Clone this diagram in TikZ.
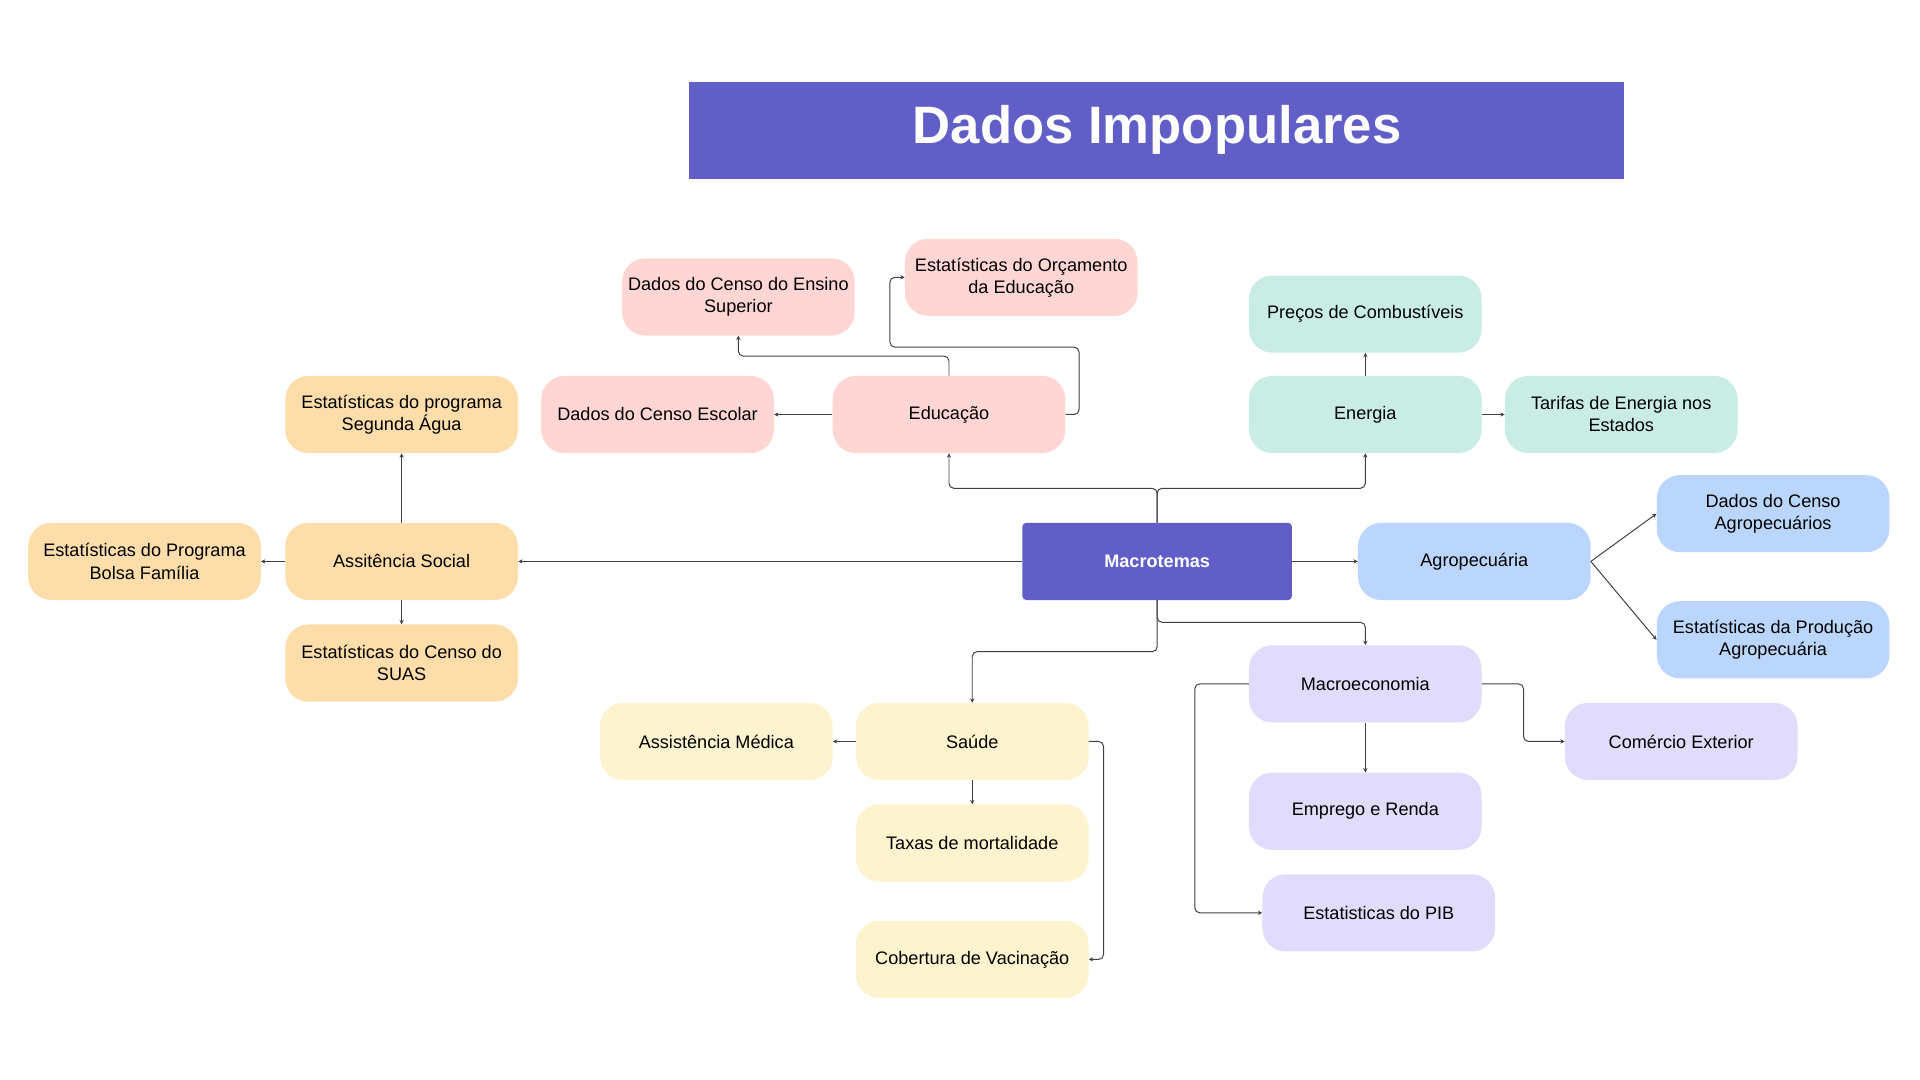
\documentclass[tikz,border=0pt]{standalone}
\usepackage{fontspec}
\setmainfont{Liberation Sans}
\usepackage{xcolor}
\usetikzlibrary{arrows.meta, positioning}
\definecolor{roxo}{HTML}{615EC8}
\definecolor{rosa}{HTML}{FFD6D3}
\definecolor{verde}{HTML}{C9EDE4}
\definecolor{laranja}{HTML}{FDDDA9}
\definecolor{azul}{HTML}{BBD6FC}
\definecolor{lilas}{HTML}{E1DBFC}
\definecolor{amarelo}{HTML}{FEF3CF}
\definecolor{linha}{HTML}{404040}
\tikzset{tema/.style={rounded corners=19pt,minimum width=190pt,minimum height=63pt,
    align=center,inner sep=2pt,font=\fontsize{14.8}{18}\selectfont,text=black}}
\tikzset{link/.style={draw=linha,line width=0.8pt,rounded corners=4pt,-{Stealth[length=3.5pt,width=3.5pt]}}}

\begin{document}
\begin{tikzpicture}[x=1pt,y=-1pt]
      \useasboundingbox[fill=white] (0,0) rectangle (1568,882);
      % titulo
      \node[fill=roxo,minimum width=763pt,minimum height=79pt,inner sep=0pt] (titulo) at (944.5,106.5) {};
      \node[text=white,font=\fontsize{43}{50}\selectfont\bfseries] at (945,106) {Dados Impopulares};

      % centro
      \node[fill=roxo,rounded corners=3pt,minimum width=220pt,minimum height=63pt,
            text=white,font=\fontsize{14.8}{18}\selectfont\bfseries] (macro) at (945,458.5) {Macrotemas};

      % educacao
      \node[tema,fill=rosa] (edu) at (775,338.5) {Educação};
      \node[tema,fill=rosa] (esc) at (537,338.5) {Dados do Censo Escolar};
      \node[tema,fill=rosa] (ens) at (603,242.5) {Dados do Censo do Ensino\\Superior};
      \node[tema,fill=rosa] (orc) at (834,226.5) {Estatísticas do Orçamento\\da Educação};

      % energia
      \node[tema,fill=verde] (ene) at (1115,338.5) {Energia};
      \node[tema,fill=verde] (comb) at (1115,256.5) {Preços de Combustíveis};
      \node[tema,fill=verde] (tar) at (1324,338.5) {Tarifas de Energia nos\\Estados};

      % assistencia social
      \node[tema,fill=laranja] (ass) at (328,458.5) {Assitência Social};
      \node[tema,fill=laranja] (agua) at (328,338.5) {Estatísticas do programa\\Segunda Água};
      \node[tema,fill=laranja] (bolsa) at (118,458.5) {Estatísticas do Programa\\Bolsa Família};
      \node[tema,fill=laranja] (suas) at (328,541.5) {Estatísticas do Censo do\\SUAS};

      % agropecuaria
      \node[tema,fill=azul] (agro) at (1204,458.5) {Agropecuária};
      \node[tema,fill=azul] (cagro) at (1448,419.5) {Dados do Censo\\Agropecuários};
      \node[tema,fill=azul] (prod) at (1448,522.5) {Estatísticas da Produção\\Agropecuária};

      % macroeconomia
      \node[tema,fill=lilas] (eco) at (1115,558.5) {Macroeconomia};
      \node[tema,fill=lilas] (come) at (1373,605.5) {Comércio Exterior};
      \node[tema,fill=lilas] (emp) at (1115,662.5) {Emprego e Renda};
      \node[tema,fill=lilas] (pib) at (1126,745.5) {Estatisticas do PIB};

      % saude
      \node[tema,fill=amarelo] (sau) at (794,605.5) {Saúde};
      \node[tema,fill=amarelo] (med) at (585,605.5) {Assistência Médica};
      \node[tema,fill=amarelo] (tax) at (794,688.5) {Taxas de mortalidade};
      \node[tema,fill=amarelo] (vac) at (794,783.5) {Cobertura de Vacinação};

      % ligacoes
      \draw[link] (macro.north) -- ++(0,-28) -| (edu.south);
      \draw[link] (macro.north) -- ++(0,-28) -| (ene.south);
      \draw[link] (macro.west) -- (ass.east);
      \draw[link] (macro.east) -- (agro.west);
      \draw[link] (macro.south) -- ++(0,18) -| (eco.north);
      \draw[link] (macro.south) -- ++(0,42) -| (sau.north);

      \draw[link] (edu.west) -- (esc.east);
      \draw[link] (edu.north) -- ++(0,-16) -| (ens.south);
      \draw[link] (edu.east) -- ++(11,0) -- ++(0,-55) -| ([xshift=-12pt]orc.west) -- (orc.west);

      \draw[link] (ene.north) -- (comb.south);
      \draw[link] (ene.east) -- (tar.west);

      \draw[link] (ass.north) -- (agua.south);
      \draw[link] (ass.west) -- (bolsa.east);
      \draw[link] (ass.south) -- (suas.north);

      \draw[link,rounded corners=0pt] (agro.east) -- (cagro.west);
      \draw[link,rounded corners=0pt] (agro.east) -- (prod.west);

      \draw[link] (eco.south) -- (emp.north);
      \draw[link] (eco.west) -- ++(-44,0) |- (pib.west);
      \draw[link] (eco.east) -- ++(34,0) |- (come.west);

      \draw[link] (sau.west) -- (med.east);
      \draw[link] (sau.south) -- (tax.north);
      \draw[link] (sau.east) -- ++(12,0) |- (vac.east);
\end{tikzpicture}
\end{document}
